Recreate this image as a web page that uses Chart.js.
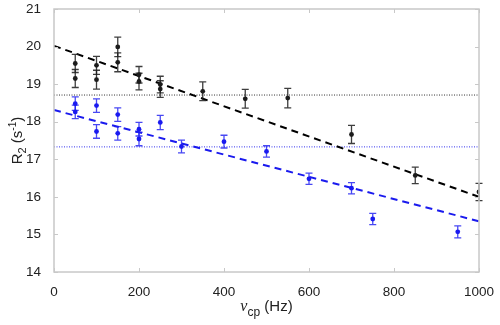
<!DOCTYPE html>
<html>
<head>
<meta charset="utf-8">
<script src="https://cdn.jsdelivr.net/npm/chart.js@4"></script>
<style>
  html, body { margin: 0; padding: 0; background: #fff; }
  canvas { display: block; }
</style>
</head>
<body>
<canvas id="r2-chart" width="500" height="325"></canvas>
<script>
const blackX = [50, 50, 100, 100, 150, 150, 200, 200, 250, 250, 350, 450, 550, 700, 850, 1000];
const blackY = [19.55, 19.15, 19.50, 19.12, 19.99, 19.58, 19.25, 19.07, 18.99, 18.87, 18.81, 18.61, 18.63, 17.66, 16.57, 16.13];
const blackErr = [0.24, 0.24, 0.24, 0.25, 0.26, 0.25, 0.22, 0.22, 0.22, 0.22, 0.25, 0.25, 0.26, 0.24, 0.22, 0.23];

const blueX = [50, 50, 100, 100, 150, 150, 200, 200, 250, 300, 400, 500, 600, 700, 750, 950];
const blueY = [18.48, 18.26, 18.43, 17.74, 18.19, 17.69, 17.80, 17.54, 17.98, 17.34, 17.47, 17.21, 16.48, 16.23, 15.41, 15.07];
const blueErr = [0.18, 0.18, 0.18, 0.18, 0.18, 0.18, 0.18, 0.18, 0.19, 0.17, 0.17, 0.15, 0.15, 0.15, 0.15, 0.16];

const fitX = [0, 1000];
const blackFit = [20.02, 16.0];
const blueFit = [18.31, 15.35];
const blackMean = [18.71, 18.71];
const blueMean = [17.33, 17.33];

const xTicks = [0, 200, 400, 600, 800, 1000];
const yTicks = [14, 15, 16, 17, 18, 19, 20, 21];

const BLACK = '#1c1c1c';
const BLUE = '#1a1af0';
const AXIS = '#c8c8c8';
const FONT = '"Liberation Sans", Arial, sans-serif';

const pts = (xs, ys) => xs.map((x, i) => ({ x: x, y: ys[i] }));

// error bars, inner ticks and axis titles
const extras = {
    id: 'extras',
    afterDatasetsDraw(chart) {
        const { ctx, scales: { x, y } } = chart;
        ctx.save();
        [[blackX, blackY, blackErr, 'rgba(28,28,28,0.85)'], [blueX, blueY, blueErr, 'rgba(26,26,240,0.8)']].forEach(([xs, ys, es, col]) => {
            ctx.strokeStyle = col;
            ctx.lineWidth = 1.3;
            xs.forEach((xv, i) => {
                const px = x.getPixelForValue(xv);
                const top = y.getPixelForValue(ys[i] + es[i]);
                const bot = y.getPixelForValue(ys[i] - es[i]);
                ctx.beginPath();
                ctx.moveTo(px, top); ctx.lineTo(px, bot);
                ctx.moveTo(px - 3.5, top); ctx.lineTo(px + 3.5, top);
                ctx.moveTo(px - 3.5, bot); ctx.lineTo(px + 3.5, bot);
                ctx.stroke();
            });
        });
        ctx.restore();
    },
    afterDraw(chart) {
        const { ctx, chartArea: a, scales: { x, y } } = chart;
        ctx.save();
        ctx.strokeStyle = AXIS;
        ctx.lineWidth = 1;
        ctx.beginPath();
        xTicks.forEach(v => {
            const px = Math.round(x.getPixelForValue(v)) + 0.5;
            ctx.moveTo(px, a.bottom); ctx.lineTo(px, a.bottom - 4);
            ctx.moveTo(px, a.top); ctx.lineTo(px, a.top + 4);
        });
        yTicks.forEach(v => {
            const py = Math.round(y.getPixelForValue(v)) + 0.5;
            ctx.moveTo(a.left, py); ctx.lineTo(a.left + 4, py);
            ctx.moveTo(a.right, py); ctx.lineTo(a.right - 4, py);
        });
        ctx.stroke();
        ctx.lineWidth = 1.5;
        ctx.strokeRect(a.left, a.top, a.right - a.left, a.bottom - a.top);

        ctx.fillStyle = '#222';
        ctx.textBaseline = 'alphabetic';
        // x title: nu_cp (Hz)
        const xmid = (a.left + a.right) / 2;
        const base = 313;
        ctx.font = 'italic 16px "Liberation Serif", serif';
        const w1 = ctx.measureText('ν').width;
        ctx.font = '12px ' + FONT;
        const w2 = ctx.measureText('cp').width;
        ctx.font = '15px ' + FONT;
        const w3 = ctx.measureText(' (Hz)').width;
        let sx = xmid - (w1 + w2 + w3) / 2;
        ctx.textAlign = 'left';
        ctx.font = 'italic 16px "Liberation Serif", serif';
        ctx.fillText('ν', sx, base - 2);
        sx += w1;
        ctx.font = '12px ' + FONT;
        ctx.fillText('cp', sx, base + 3);
        sx += w2;
        ctx.font = '15px ' + FONT;
        ctx.fillText(' (Hz)', sx, base - 2);

        // y title: R_2 (s^-1)
        ctx.translate(22, (a.top + a.bottom) / 2);
        ctx.rotate(-Math.PI / 2);
        const parts = [['R', '15px', 0], ['2', '11px', 4], [' (s', '15px', 0], ['-1', '10px', -6], [')', '15px', 0]];
        let tw = 0;
        parts.forEach(p => { ctx.font = p[1] + ' ' + FONT; tw += ctx.measureText(p[0]).width; });
        let tx = -tw / 2;
        parts.forEach(p => {
            ctx.font = p[1] + ' ' + FONT;
            ctx.fillText(p[0], tx, p[2]);
            tx += ctx.measureText(p[0]).width;
        });
        ctx.restore();
    }
};

const ctx = document.getElementById('r2-chart').getContext('2d');
new Chart(ctx, {
    type: 'scatter',
    data: {
        datasets: [
            {
                type: 'line', data: pts(fitX, blackMean), borderColor: '#333', borderWidth: 1,
                borderDash: [1, 1.5], pointRadius: 0, fill: false, order: 5
            },
            {
                type: 'line', data: pts(fitX, blueMean), borderColor: '#3333ee', borderWidth: 1,
                borderDash: [1, 1.5], pointRadius: 0, fill: false, order: 5
            },
            {
                type: 'line', data: pts(fitX, blackFit), borderColor: '#000', borderWidth: 2,
                borderDash: [7, 5], pointRadius: 0, fill: false, order: 4
            },
            {
                type: 'line', data: pts(fitX, blueFit), borderColor: '#1a1aee', borderWidth: 2,
                borderDash: [7, 5], pointRadius: 0, fill: false, order: 4
            },
            {
                data: pts(blackX, blackY), backgroundColor: BLACK, borderColor: BLACK,
                pointRadius: 2.4, borderWidth: 0, order: 1
            },
            {
                data: pts(blueX, blueY), backgroundColor: BLUE, borderColor: BLUE,
                pointRadius: 2.4, borderWidth: 0, order: 1
            }
        ]
    },
    options: {
        responsive: false,
        animation: false,
        events: [],
        layout: { padding: { top: 9, right: 21, left: 0, bottom: 0 } },
        plugins: { legend: { display: false }, tooltip: { enabled: false } },
        scales: {
            x: {
                type: 'linear', min: 0, max: 1000,
                afterFit: s => { s.height = 53; },
                afterBuildTicks: s => { s.ticks = xTicks.map(v => ({ value: v })); },
                grid: { display: false },
                border: { display: false },
                ticks: { color: '#222', font: { family: FONT, size: 13.5 }, padding: 4, maxRotation: 0, callback: v => String(v) }
            },
            y: {
                type: 'linear', min: 14, max: 21,
                afterFit: s => { s.width = 54; },
                afterBuildTicks: s => { s.ticks = yTicks.map(v => ({ value: v })); },
                grid: { display: false },
                border: { display: false },
                ticks: { color: '#222', font: { family: FONT, size: 13.5, lineHeight: 0.5 }, padding: 5, callback: v => String(v) }
            }
        }
    },
    plugins: [extras]
});
</script>
</body>
</html>
